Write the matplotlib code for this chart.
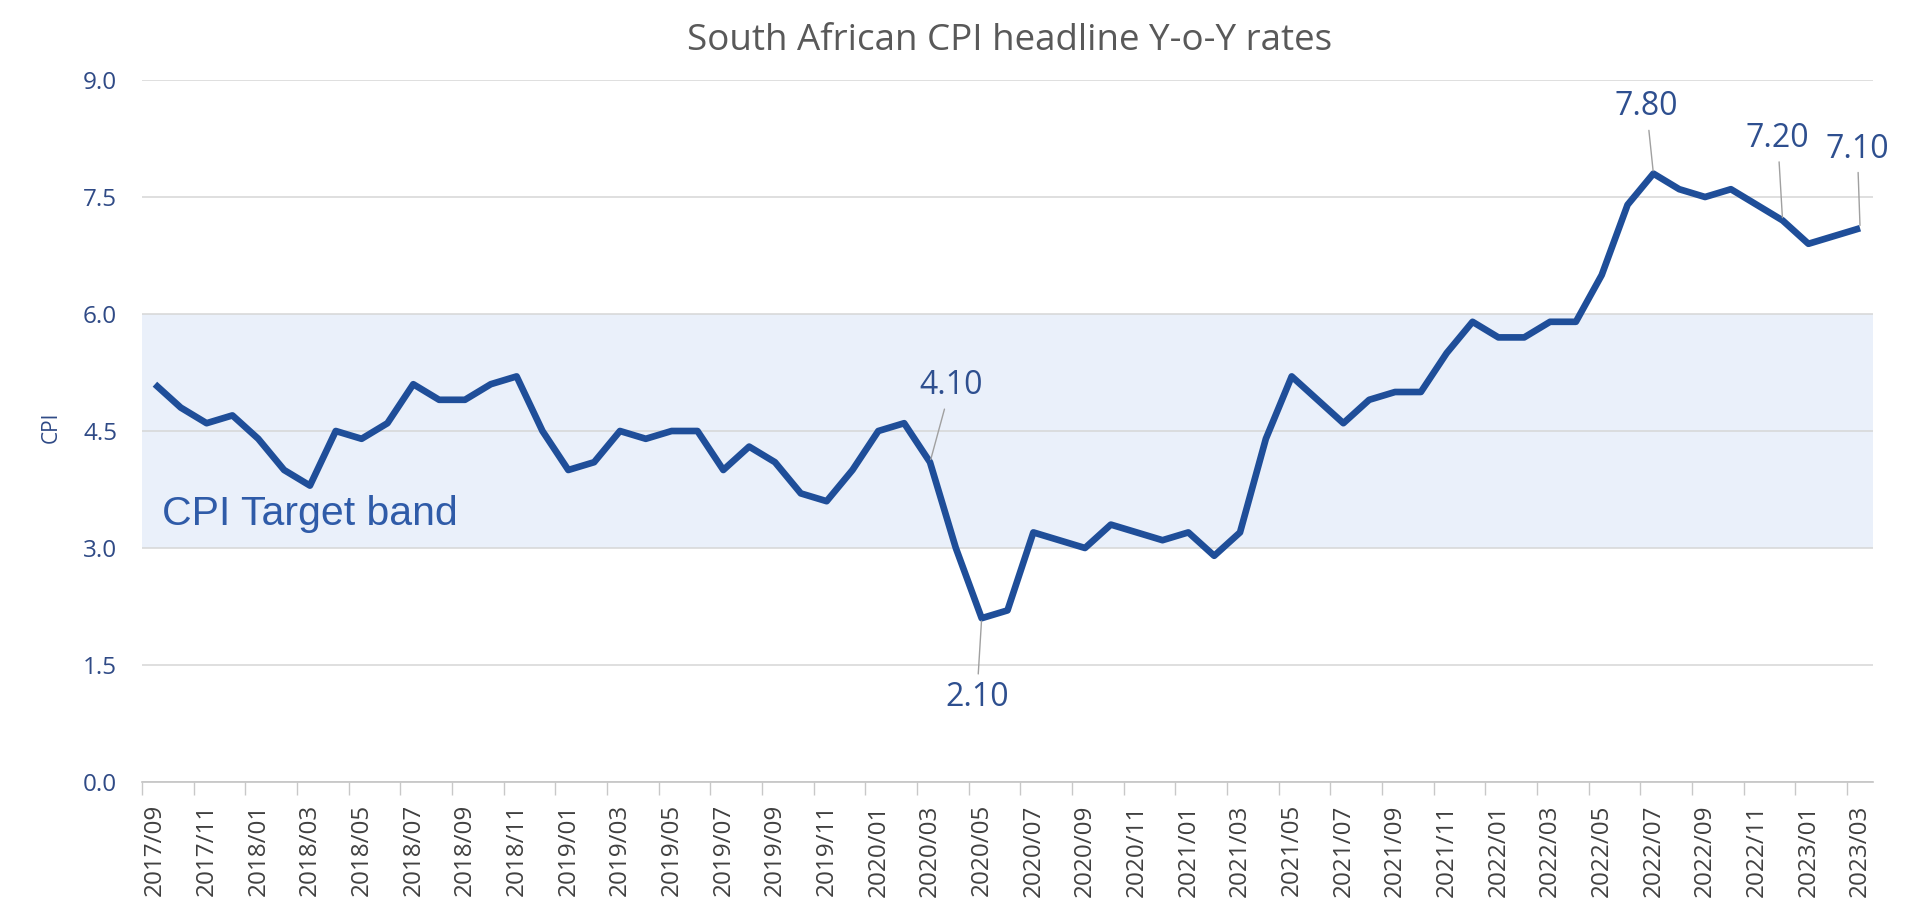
import matplotlib
matplotlib.use('Agg')
import matplotlib.pyplot as plt
import pandas as pd

# ---------------- data ----------------
months = list(pd.period_range('2017-09', '2023-03', freq='M').strftime('%Y/%m'))
cpi = [5.1, 4.8, 4.6, 4.7,
       4.4, 4.0, 3.8, 4.5, 4.4, 4.6, 5.1, 4.9, 4.9, 5.1, 5.2, 4.5,
       4.0, 4.1, 4.5, 4.4, 4.5, 4.5, 4.0, 4.3, 4.1, 3.7, 3.6, 4.0,
       4.5, 4.6, 4.1, 3.0, 2.1, 2.2, 3.2, 3.1, 3.0, 3.3, 3.2, 3.1,
       3.2, 2.9, 3.2, 4.4, 5.2, 4.9, 4.6, 4.9, 5.0, 5.0, 5.5, 5.9,
       5.7, 5.7, 5.9, 5.9, 6.5, 7.4, 7.8, 7.6, 7.5, 7.6, 7.4, 7.2,
       6.9, 7.0, 7.1]
yticks = [0.0, 1.5, 3.0, 4.5, 6.0, 7.5, 9.0]
band_low, band_high = 3.0, 6.0
band_label = 'CPI Target band'
title = 'South African CPI headline Y-o-Y rates'
ylabel = 'CPI'
# annotated months and label offsets (points)
annot_months = ['2020/03', '2020/05', '2022/07', '2022/12', '2023/03']
annot_offsets = [(15, 55), (-3.5, -57), (-5, 48), (-3.5, 59), (-2, 57)]

# ---------------- style ----------------
LINE = '#1F4E99'
BAND = '#EAF0FA'
GRID = '#D6D6D6'
YTICK = '#2F4A86'
XTICK = '#404040'
LABEL = '#2E4F8F'
TITLE = '#595959'
FONT = 'Open Sans'

fig = plt.figure(figsize=(19.2, 9.08), dpi=100)
ax = fig.add_axes([142/1920, 1-782/908, (1873-142)/1920, (782-80)/908])

x = list(range(len(months)))
ax.axhspan(band_low, band_high, color=BAND, zorder=0.2, lw=0)
ax.plot(x, cpi, color=LINE, lw=4.8, solid_joinstyle='round', solid_capstyle='butt', zorder=3)

ax.set_xlim(-0.5, len(months) - 0.5)
ax.set_ylim(yticks[0], yticks[-1])
ax.set_yticks(yticks)
ax.set_yticklabels([f'{v:.1f}' for v in yticks], fontfamily=FONT, fontsize=17.5, color=YTICK)
ax.tick_params(axis='y', length=0, pad=18)
ax.yaxis.grid(True, color=GRID, lw=1.1)
ax.set_axisbelow(True)

# x tick labels at every second category centre, tick marks at category boundaries
ax.set_xticks(x[::2])
ax.set_xticklabels(months[::2], rotation=90, fontfamily=FONT, fontsize=17.5, color=XTICK)
ax.set_xticks([i - 0.5 for i in x[::2]], minor=True)
ax.tick_params(axis='x', which='major', length=0, pad=16)
ax.tick_params(axis='x', which='minor', length=9, width=1.0, color='#C8C8C8')

for s in ['top', 'right', 'left']:
    ax.spines[s].set_visible(False)
ax.spines['bottom'].set_color('#C4C4C4')
ax.spines['bottom'].set_linewidth(1.2)

ax.text((162-142)/1731, (782-525)/702, band_label, transform=ax.transAxes,
        ha='left', va='baseline', fontsize=29.5, color='#2F5BA8',
        fontfamily='Liberation Sans', zorder=4)

for m, off in zip(annot_months, annot_offsets):
    i = months.index(m)
    ax.annotate(f'{cpi[i]:.2f}', xy=(i, cpi[i]), xytext=off, textcoords='offset points',
                ha='center', va='center', fontsize=23, color=LABEL, fontfamily=FONT,
                annotation_clip=False, zorder=5,
                arrowprops=dict(arrowstyle='-', color='#A0A0A0', lw=1.0,
                                shrinkA=3, shrinkB=2))

fig.text(1010/1920, 1-50/908, title, ha='center', va='baseline',
         fontsize=26.5, color=TITLE, fontfamily=FONT)
fig.text(51/1920, 1-427/908, ylabel, rotation=90, ha='center', va='center',
         fontsize=15, color=YTICK, fontfamily=FONT)

fig.savefig('out.png', dpi=100, facecolor='white')
